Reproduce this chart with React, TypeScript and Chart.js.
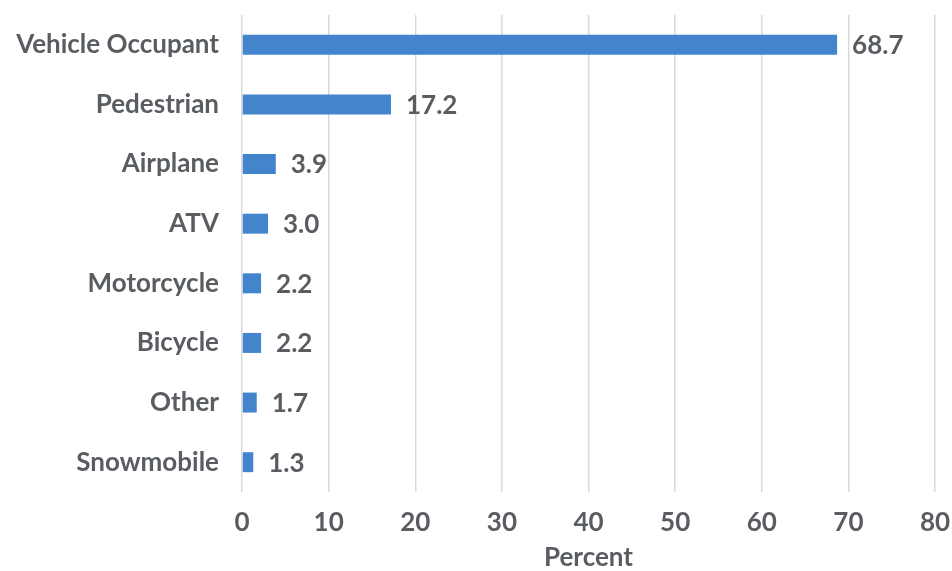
import React, { useEffect, useRef } from "react";
import { Chart, registerables } from "chart.js";

Chart.register(...registerables);

const categories = ["Vehicle Occupant", "Pedestrian", "Airplane", "ATV", "Motorcycle", "Bicycle", "Other", "Snowmobile"];
const values = [68.7, 17.2, 3.9, 3.0, 2.2, 2.2, 1.7, 1.3];
const xTitle = "Percent";

const FONT = "Lato, 'Open Sans', sans-serif";
const TEXT = "#595d62";
const SIZE = 26;

const valueLabels = {
  id: "valueLabels",
  afterDatasetsDraw(chart: any) {
    const ctx = chart.ctx;
    const meta = chart.getDatasetMeta(0);
    ctx.save();
    ctx.font = `bold ${SIZE}px ${FONT}`;
    ctx.fillStyle = TEXT;
    ctx.textAlign = "left";
    ctx.textBaseline = "middle";
    meta.data.forEach((bar: any, i: number) => {
      ctx.fillText(values[i].toFixed(1), bar.x + 15, bar.y + 1);
    });
    ctx.restore();
  },
};

export default function App() {
  const ref = useRef<HTMLCanvasElement>(null);
  useEffect(() => {
    const chart = new Chart(ref.current!, {
      type: "bar",
      data: {
        labels: categories,
        datasets: [
          {
            data: values,
            backgroundColor: "#4285CD",
            barPercentage: 0.67,
            categoryPercentage: 0.5,
          },
        ],
      },
      options: {
        indexAxis: "y",
        animation: false,
        responsive: false,
        layout: { padding: { top: 15, right: 17, left: 0, bottom: 0 } },
        plugins: { legend: { display: false }, tooltip: { enabled: false } },
        scales: {
          x: {
            min: 0,
            max: 80,
            ticks: { stepSize: 10, color: TEXT, font: { family: FONT, size: SIZE, weight: "bold" }, padding: 15 },
            grid: { color: "#d9d9d9", lineWidth: 1.5, drawTicks: false },
            border: { display: false },
            title: { display: true, text: xTitle, color: TEXT, font: { family: FONT, size: SIZE, weight: "bold", lineHeight: 1.0 }, padding: { top: 0, bottom: 0 } },
            afterFit: (s: any) => { s.height = 79; s.paddingLeft = 0; s.paddingRight = 0; },
          },
          y: {
            ticks: { color: TEXT, font: { family: FONT, size: SIZE, weight: "bold" }, padding: 23 },
            grid: { display: false, drawTicks: false },
            border: { display: false },
            afterFit: (s: any) => { s.width = 242; s.paddingTop = 0; s.paddingBottom = 0; },
          },
        },
      },
      plugins: [valueLabels],
    });
    return () => chart.destroy();
  }, []);
  return (
    <div style={{ position: "fixed", left: 0, top: 0, width: 952, height: 571, background: "#fff" }}>
      <canvas ref={ref} width={952} height={571} style={{ width: 952, height: 571 }} />
    </div>
  );
}
